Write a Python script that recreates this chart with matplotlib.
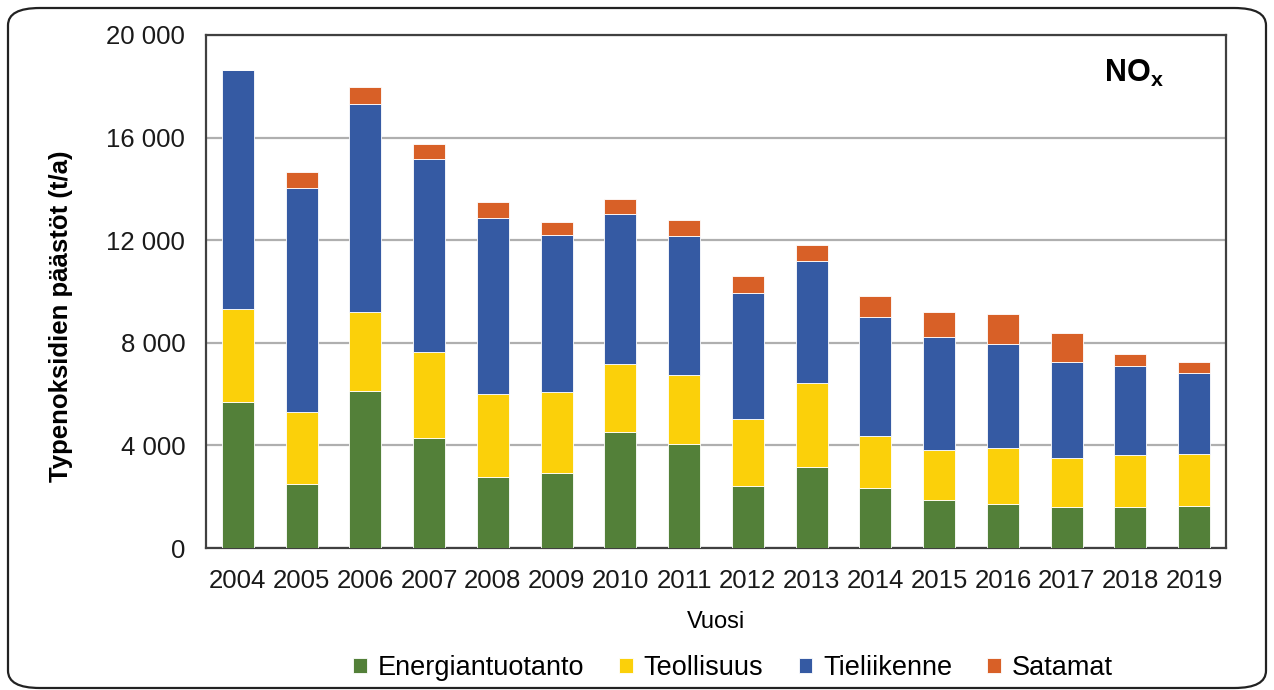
import matplotlib
matplotlib.use("Agg")
import matplotlib.pyplot as plt
from matplotlib.patches import FancyBboxPatch
import numpy as np

plt.rcParams['font.family'] = ['Liberation Sans', 'DejaVu Sans']

years = ["2004", "2005", "2006", "2007", "2008", "2009", "2010", "2011",
         "2012", "2013", "2014", "2015", "2016", "2017", "2018", "2019"]
energiantuotanto = [5680, 2510, 6120, 4280, 2770, 2910, 4540, 4040,
                    2420, 3170, 2330, 1890, 1710, 1580, 1580, 1630]
teollisuus = [3650, 2780, 3090, 3350, 3220, 3160, 2650, 2690,
              2590, 3250, 2030, 1930, 2200, 1940, 2030, 2030]
tieliikenne = [9300, 8730, 8090, 7540, 6890, 6130, 5830, 5450,
               4940, 4780, 4640, 4410, 4060, 3750, 3480, 3160]
satamat = [0, 630, 660, 580, 610, 500, 580, 610,
           640, 610, 830, 980, 1150, 1100, 460, 440]
series_names = ["Energiantuotanto", "Teollisuus", "Tieliikenne", "Satamat"]
colors = ["#538039", "#FBD00A", "#355AA3", "#D86027"]
yticks = [0, 4000, 8000, 12000, 16000, 20000]
ytick_labels = ["0", "4 000", "8 000", "12 000", "16 000", "20 000"]

fig = plt.figure(figsize=(12.74, 6.9), dpi=100)
ax = fig.add_axes([206/1274, 142/690, 1020/1274, 513/690])

x = np.arange(len(years))
bottom = np.zeros(len(years))
for name, vals, c in zip(series_names, [energiantuotanto, teollisuus, tieliikenne, satamat], colors):
    v = np.array(vals, dtype=float)
    ax.bar(x, v, width=0.5, bottom=bottom, color=c, edgecolor="white",
           linewidth=0.6, label=name, zorder=3)
    bottom += v

ax.set_xlim(-0.5, len(years) - 0.5)
ax.set_ylim(0, 20000)
ax.set_yticks(yticks)
ax.set_yticklabels(ytick_labels)
ax.set_xticks(x)
ax.set_xticklabels(years)
ax.tick_params(axis='both', length=0, labelsize=18.5, colors="#1a1a1a")
ax.tick_params(axis='y', pad=15)
ax.tick_params(axis='x', pad=15)
ax.yaxis.grid(True, color="#AFAFAF", linewidth=1.6, zorder=0)
ax.set_axisbelow(True)
for s in ax.spines.values():
    s.set_color("#404040")
    s.set_linewidth(1.6)

ax.set_ylabel("Typenoksidien päästöt (t/a)", fontsize=18.5, fontweight="bold")
ax.yaxis.set_label_coords(-0.130, 0.451)
ax.set_xlabel("Vuosi", fontsize=17, labelpad=13)

ax.text(0.91, 0.925, "NO$_\\mathregular{x}$", transform=ax.transAxes,
        fontsize=22, fontweight="bold", ha="center", va="center")

leg = fig.legend(loc="center", bbox_to_anchor=(733/1274, 1 - 668/690), ncol=4,
                 frameon=False, fontsize=19.5, handlelength=0.5, handleheight=0.5,
                 handletextpad=0.4, columnspacing=1.3)

border = FancyBboxPatch((8/1274, 2/690), 1258/1274, 680/690,
                        boxstyle="round,pad=0,rounding_size=0.025",
                        transform=fig.transFigure, fill=False,
                        edgecolor="#222222", linewidth=1.6)
fig.patches.append(border)

fig.savefig("out.png", dpi=100)
